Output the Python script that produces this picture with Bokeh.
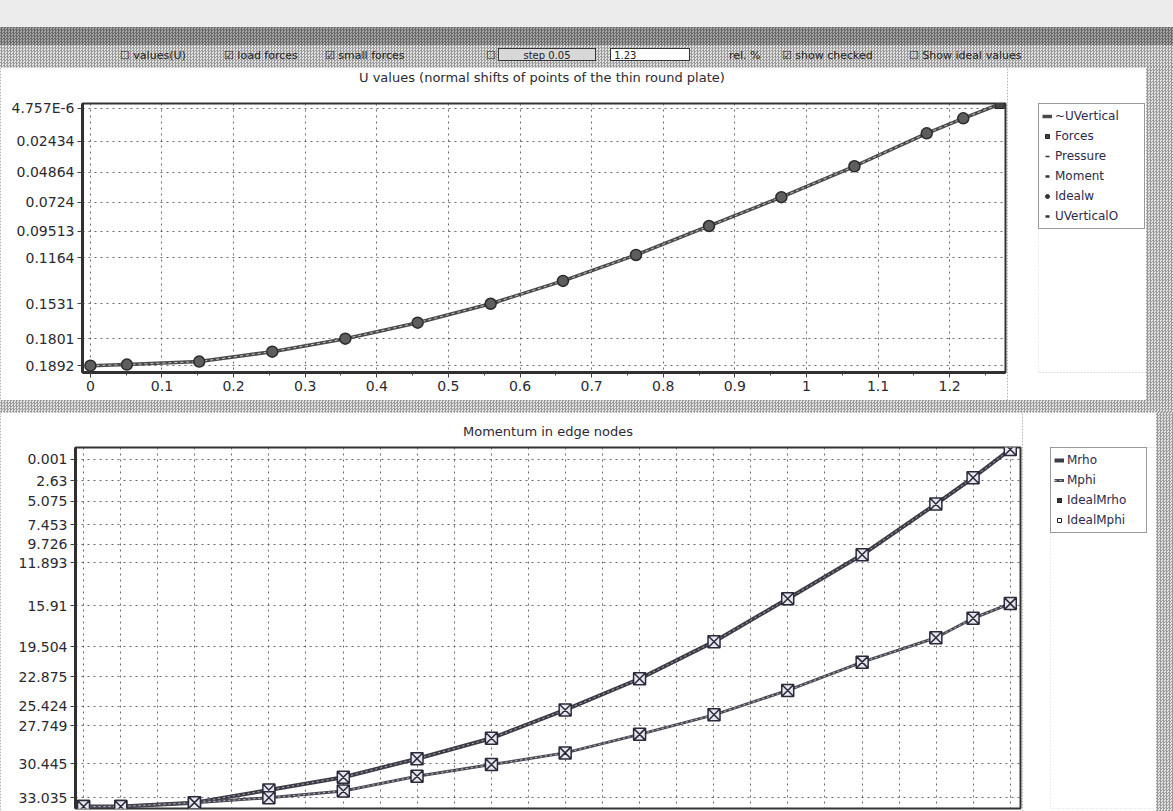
from bokeh.plotting import figure
from bokeh.models import Range1d, FixedTicker, Legend, LegendItem, Div, Title
from bokeh.layouts import column, row
from bokeh.embed import file_html
from bokeh.resources import INLINE

NAN = float("nan")

# ---------------- data: upper chart ----------------
x_nodes = [0, 0.051, 0.152, 0.254, 0.356, 0.457, 0.559, 0.660, 0.762, 0.864,
           0.965, 1.067, 1.168, 1.219, 1.270]
u_vertical = [0.2024, 0.2016, 0.1992, 0.1914, 0.1812, 0.1686, 0.1537, 0.1357,
              0.1153, 0.0925, 0.0698, 0.0455, 0.0196, 0.0078, -0.0035]
u_tick_labels = ["4.757E-6", "0.02434", "0.04864", "0.0724", "0.09513",
                 "0.1164", "0.1531", "0.1801", "0.1892"]
u_tick_pos = [0.0, 0.0259, 0.0502, 0.0737, 0.0965, 0.1176, 0.1537, 0.1812, 0.2024]
x_tick_labels = ["0", "0.1", "0.2", "0.3", "0.4", "0.5", "0.6", "0.7", "0.8",
                 "0.9", "1", "1.1", "1.2"]
u_legend = ["~UVertical", "Forces", "Pressure", "Moment", "Idealw", "UVerticalO"]

# ---------------- data: lower chart ----------------
m_rho = [35.8, 35.8, 35.4, 34.1, 32.8, 30.9, 28.8, 25.9, 22.7, 18.9, 14.5,
         10.0, 4.8, 2.1, -0.8]
m_phi = [35.8, 35.8, 35.4, 34.9, 34.2, 32.7, 31.5, 30.3, 28.4, 26.4, 23.9,
         21.0, 18.5, 16.5, 15.0]
m_tick_labels = ["0.001", "2.63", "5.075", "7.453", "9.726", "11.893", "15.91",
                 "19.504", "22.875", "25.424", "27.749", "30.445", "33.035"]
m_tick_pos = [0.2, 2.4, 4.5, 6.9, 8.9, 10.8, 15.2, 19.4, 22.5, 25.5, 27.5, 31.4, 34.9]
m_legend = ["Mrho", "Mphi", "IdealMrho", "IdealMphi"]

# header controls (text as far as legible)
ctrl_labels = ["values(U)", "load forces", "small forces", "", "rel. %",
               "show checked", "Show ideal values"]
ctrl_checked = [False, True, True, False, None, True, False]

FONT = "DejaVu Sans"
TXT = "#2a2a33"
W, H = 1173, 811
DITHER = {"background-color": "#c4c4c4",
          "background-image": "repeating-conic-gradient(#9a9a9a 0 25%, #e4e4e4 0 50%)",
          "background-size": "3px 3px"}


def base_fig(w, h, xr, yr, title, mb, spacer):
    p = figure(width=w, height=h, x_range=xr, y_range=yr,
               output_backend="svg", toolbar_location=None,
               min_border_left=mb[0], min_border_right=mb[1],
               min_border_top=mb[2], min_border_bottom=mb[3])
    p.title.text = title
    p.title.align = "center"
    p.title.standoff = 0
    p.title.text_font = FONT
    p.title.text_font_size = "13px"
    p.title.text_font_style = "normal"
    p.title.text_color = TXT
    p.add_layout(Title(text=" ", text_font_size="2px", standoff=spacer), "above")
    p.background_fill_color = "white"
    p.border_fill_color = "white"
    p.outline_line_color = "#333333"
    p.outline_line_width = 2
    for ax in (p.xaxis[0], p.yaxis[0]):
        ax.axis_line_color = "#303030"
        ax.axis_line_width = 3
        ax.major_tick_line_color = "#404040"
        ax.major_tick_out = 5
        ax.major_tick_in = 0
        ax.minor_tick_line_color = "#404040"
        ax.minor_tick_out = 3
        ax.minor_tick_in = 0
        ax.major_label_text_font = FONT
        ax.major_label_text_font_size = "14px"
        ax.major_label_text_color = TXT
        ax.major_label_standoff = 3
    for g in (p.xgrid[0], p.ygrid[0]):
        g.grid_line_color = "#505050"
        g.grid_line_dash = "2 4"
        g.grid_line_width = 1
        g.grid_line_alpha = 0.85
    return p


def legend_fig(w, h, left, top):
    q = figure(width=w, height=h, x_range=Range1d(0, 1), y_range=Range1d(0, 1),
               x_axis_type=None, y_axis_type=None,
               output_backend="svg", toolbar_location=None,
               min_border_left=left, min_border_top=top,
               min_border_right=0, min_border_bottom=0)
    q.grid.visible = False
    q.outline_line_color = None
    q.background_fill_color = "white"
    q.border_fill_color = "white"
    return q


def style_legend(leg, label_w):
    leg.label_text_font = FONT
    leg.label_text_font_size = "12px"
    leg.label_text_color = "#2b2b4a"
    leg.label_height = 18
    leg.label_width = label_w
    leg.glyph_width = 10
    leg.glyph_height = 12
    leg.spacing = 2
    leg.padding = 3
    leg.margin = 0
    leg.label_standoff = 3
    leg.border_line_color = "#333333"
    leg.border_line_width = 1
    leg.background_fill_color = "white"
    leg.background_fill_alpha = 1


# ---------------- header ----------------
box = {True: "&#9745;", False: "&#9744;", None: ""}
ctrl_x = [120, 224, 325, 486, 729, 782, 909]
parts = []
for lbl, chk, cx in zip(ctrl_labels, ctrl_checked, ctrl_x):
    parts.append("<span style='position:absolute;left:%dpx;top:48px;white-space:nowrap;'>%s %s</span>"
                 % (cx, box[chk], lbl))
parts.append("<span style='position:absolute;left:498px;top:48px;width:98px;height:13px;"
             "border:1px solid #333;background:#d8d8d8;font-size:10px;text-align:center;'>step 0.05</span>")
parts.append("<span style='position:absolute;left:610px;top:48px;width:80px;height:13px;"
             "border:1px solid #333;background:#fff;font-size:10px;'>&nbsp;1.23</span>")
header_html = (
    "<div style='position:relative;width:%dpx;height:67px;font-family:DejaVu Sans;"
    "font-size:11px;color:#222;'>"
    "<div style='position:absolute;left:0;top:0;width:%dpx;height:27px;background:#ececec;'></div>"
    "<div style='position:absolute;left:0;top:27px;width:%dpx;height:18px;"
    "background-color:#8a8a8a;background-image:repeating-conic-gradient(#6a6a6a 0 25%%, #a4a4a4 0 50%%);"
    "background-size:3px 3px;'></div>%s</div>" % (W, W, W, "".join(parts))
)
header = Div(text=header_html, width=W, height=67, margin=0)

# ---------------- upper chart ----------------
P1W = 82 + 923 + 2
p1 = base_fig(P1W, 333, Range1d(-0.011, 1.278), Range1d(0.2078, -0.0039),
              "U values (normal shifts  of points of the thin round plate)",
              (82, 2, 35, 28), 15)
p1.xaxis.ticker = FixedTicker(ticks=[i / 10 for i in range(len(x_tick_labels))],
                              minor_ticks=[i / 10 + 0.05 for i in range(len(x_tick_labels))])
p1.xaxis.major_label_overrides = {i / 10: s for i, s in enumerate(x_tick_labels)}
p1.yaxis.ticker = FixedTicker(ticks=u_tick_pos)
p1.yaxis.major_label_overrides = dict(zip(u_tick_pos, u_tick_labels))

p1.line(x_nodes, u_vertical, line_color="#4a4a4a", line_width=3.5)
p1.line(x_nodes, u_vertical, line_color="#c8c8c8", line_width=1, line_dash="3 3")
p1.scatter(x_nodes[:-1], u_vertical[:-1], marker="circle", size=11,
           fill_color="#5e5e5e", line_color="#2a2a2a", line_width=1.5)
p1.scatter(x_nodes[-1:], u_vertical[-1:], marker="square", size=9,
           fill_color="#444444", line_color="#222222")

# legend panel of the upper chart
L1W = 1146 - P1W
lg1 = legend_fig(L1W, 333, 31, 36)
g_line = lg1.line([NAN], [NAN], line_color="#4a4a4a", line_width=3.5)
g_sq = lg1.scatter([NAN], [NAN], marker="square", size=6, fill_color="#444", line_color="#222")
g_pr = lg1.scatter([NAN], [NAN], marker="dash", size=7, angle=1.0, line_color="#333", line_width=1.5)
g_mo = lg1.scatter([NAN], [NAN], marker="dash", size=7, line_color="#333", line_width=2.5)
g_id = lg1.scatter([NAN], [NAN], marker="circle", size=4, fill_color="#333", line_color="#333")
g_uo = lg1.scatter([NAN], [NAN], marker="dash", size=7, line_color="#333", line_width=2.5)
leg1 = Legend(items=[LegendItem(label=t, renderers=[r]) for t, r in
                     zip(u_legend, [g_line, g_sq, g_pr, g_mo, g_id, g_uo])],
              location="top_left")
style_legend(leg1, 86)
lg1.add_layout(leg1, "center")

# ---------------- lower chart ----------------
P2W = 75 + 945 + 2
p2 = base_fig(P2W, 399, Range1d(-0.011, 1.284), Range1d(36.0, -1.0),
              "Momentum in edge nodes", (75, 2, 26, 3), 5)
p2.xaxis.visible = False
p2.xgrid.ticker = FixedTicker(ticks=[i * 0.0508 for i in range(26)])
p2.yaxis.ticker = FixedTicker(ticks=m_tick_pos)
p2.yaxis.major_label_overrides = dict(zip(m_tick_pos, m_tick_labels))

p2.line(x_nodes, m_rho, line_color="#3c3c46", line_width=4)
p2.line(x_nodes, m_rho, line_color="#b0b0b8", line_width=1, line_dash="2 3")
p2.scatter(x_nodes, m_rho, marker="square_x", size=12,
           fill_color="#e6e6ee", line_color="#2a2a3a", line_width=1.5)
p2.line(x_nodes, m_phi, line_color="#4a4a54", line_width=3)
p2.line(x_nodes, m_phi, line_color="#c0c0c8", line_width=1, line_dash="2 3")
p2.scatter(x_nodes, m_phi, marker="square_x", size=12,
           fill_color="#e6e6ee", line_color="#2a2a3a", line_width=1.5)

# legend panel of the lower chart
L2W = 1156 - P2W
lg2 = legend_fig(L2W, 399, 28, 35)
h_rho = lg2.line([NAN], [NAN], line_color="#3c3c46", line_width=4)
h_phi = lg2.line([NAN], [NAN], line_color="#4a4a54", line_width=3)
h_phd = lg2.line([NAN], [NAN], line_color="#c0c0c8", line_width=1, line_dash="2 3")
h_im = lg2.scatter([NAN], [NAN], marker="square_x", size=8, fill_color="#555", line_color="#222")
h_ip = lg2.scatter([NAN], [NAN], marker="square", size=8, fill_color="white", line_color="#222")
leg2 = Legend(items=[
    LegendItem(label=m_legend[0], renderers=[h_rho]),
    LegendItem(label=m_legend[1], renderers=[h_phi, h_phd]),
    LegendItem(label=m_legend[2], renderers=[h_im]),
    LegendItem(label=m_legend[3], renderers=[h_ip]),
], location="top_left")
style_legend(leg2, 76)
lg2.add_layout(leg2, "center")

side1 = Div(text="", width=W - 1146, height=333, margin=0, styles=DITHER)
gap = Div(text="", width=W, height=12, margin=0, styles=DITHER)
side2 = Div(text="", width=W - 1156, height=399, margin=0, styles=DITHER)

layout = column(header, row(p1, lg1, side1, spacing=0), gap,
                row(p2, lg2, side2, spacing=0), spacing=0, styles=DITHER)

open("out.html", "w").write(file_html(layout, INLINE))
